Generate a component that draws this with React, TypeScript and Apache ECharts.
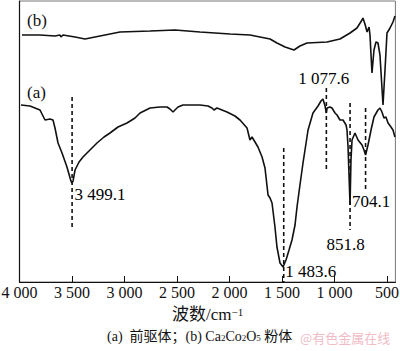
import React, { useEffect, useRef } from "react";
import * as echarts from "echarts";

// Curve (b): Ca2Co2O5 powder — wavenumber (cm^-1) and transmittance (a.u.)
const wavenumberB = [3976, 3805, 3662, 3614, 3605, 3586, 3471, 3376, 3281, 3138, 3043, 2757, 2519, 2281, 1995, 1805, 1614, 1548, 1471, 1386, 1329, 1262, 1071, 948, 852, 786, 738, 729, 710, 690, 671, 662, 643, 624, 605, 586, 567, 538, 519, 500, 471, 443, 424];
const transB = [247, 247, 246, 247, 245, 247, 245, 243, 245, 248, 250, 251, 252, 250, 248, 247, 243, 239, 235, 232, 236, 239, 240, 243, 249, 254, 262, 264, 258, 250, 255, 247, 209, 232, 240, 239, 227, 177, 212, 249, 254, 260, 266];

// Curve (a): precursor
const wavenumberA = [3986, 3900, 3805, 3757, 3710, 3681, 3662, 3633, 3595, 3548, 3510, 3499, 3490, 3471, 3433, 3395, 3329, 3262, 3195, 3138, 3062, 2976, 2900, 2852, 2757, 2662, 2595, 2567, 2538, 2510, 2490, 2443, 2281, 2205, 2167, 2148, 2119, 2024, 1948, 1900, 1833, 1805, 1786, 1757, 1729, 1690, 1662, 1633, 1614, 1595, 1567, 1548, 1519, 1490, 1484, 1462, 1433, 1405, 1376, 1357, 1329, 1300, 1281, 1252, 1205, 1157, 1129, 1110, 1090, 1078, 1071, 1043, 1024, 995, 976, 948, 919, 890, 881, 871, 852, 843, 833, 805, 776, 738, 719, 704, 681, 652, 624, 586, 567, 548, 529, 510, 490, 462, 443, 424];
const transA = [177, 176, 172, 162, 163, 162, 154, 139, 129, 115, 101, 99, 101, 112, 120, 125, 132, 139, 145, 149, 155, 159, 164, 169, 174, 175, 175, 173, 170, 173, 175, 177, 177, 176, 174, 172, 174, 170, 166, 162, 154, 142, 145, 140, 135, 125, 114, 87, 84, 79, 55, 35, 19, 15, 15, 22, 32, 42, 57, 75, 97, 119, 132, 152, 169, 176, 181, 183, 176, 169, 174, 175, 174, 169, 167, 162, 162, 157, 152, 135, 77, 122, 142, 149, 142, 137, 132, 127, 137, 152, 165, 172, 174, 170, 164, 165, 159, 155, 152, 145];

// Marked peaks
const peakWavenumbers = [3499.1, 1483.6, 1077.6, 851.8, 704.1];
const peakLabels = ["3 499.1", "1 483.6", "1 077.6", "851.8", "704.1"];
const dashTop = [185, 134, 194, 179, 174];
const dashBottom = [55, 0, 110, 52, 92];
const labelLevel = [87, 10, 203, 37, 80];

// Axis ticks
const xTicks = [500, 1000, 1500, 2000, 2500, 3000, 3500, 4000];

const SERIF = "'Liberation Serif', 'Times New Roman', serif";
const CJK = "'Liberation Serif', 'Noto Sans CJK SC', serif";

const fmtTick = (v: number) =>
  v >= 1000 ? `${Math.floor(v / 1000)} ${String(v % 1000).padStart(3, "0")}` : String(v);

export default function App() {
  const ref = useRef<HTMLDivElement>(null);
  useEffect(() => {
    document.body.style.margin = "0";
    const chart = echarts.init(ref.current!, null, { renderer: "svg" });
    const labelAlign = ["left", "left", "center", "center", "left"];
    const labelDx = [3, 2, -2, -4, -13];
    const option: any = {
      animation: false,
      backgroundColor: "#fff",
      grid: {
        left: 19.5,
        right: 4.6,
        top: 1,
        bottom: 69,
        containLabel: false,
        outerBoundsMode: "none",
        show: true,
        borderColor: "#777",
        borderWidth: 1,
      },
      xAxis: {
        type: "value",
        inverse: true,
        min: 420,
        max: 4000,
        axisLine: { show: true, lineStyle: { color: "#111", width: 1.2 } },
        axisTick: { show: true, inside: true, length: 6, customValues: xTicks, lineStyle: { color: "#111" } },
        axisLabel: {
          customValues: xTicks,
          formatter: fmtTick,
          margin: 2,
          color: "#111",
          fontFamily: SERIF,
          fontSize: 16,
          hideOverlap: false,
        },
        splitLine: { show: false },
      },
      yAxis: {
        type: "value",
        min: 0,
        max: 281,
        axisLine: { show: true, lineStyle: { color: "#111", width: 1.2 } },
        axisTick: { show: false },
        axisLabel: { show: false },
        splitLine: { show: false },
      },
      series: [
        {
          type: "line",
          data: wavenumberB.map((w, i) => [w, transB[i]]),
          symbol: "none",
          lineStyle: { color: "#111", width: 1.6 },
        },
        {
          type: "line",
          data: wavenumberA.map((w, i) => [w, transA[i]]),
          symbol: "none",
          lineStyle: { color: "#111", width: 1.6 },
        },
        ...peakWavenumbers.map((w, i) => ({
          type: "line",
          data: [
            [w, dashTop[i]],
            [w, dashBottom[i]],
          ],
          symbol: "none",
          lineStyle: { color: "#111", width: 1.6, type: [4, 3] },
        })),
        {
          type: "scatter",
          symbolSize: 1,
          silent: true,
          itemStyle: { color: "#111", opacity: 0 },
          data: peakWavenumbers.map((w, i) => ({
            value: [w, labelLevel[i]],
            label: {
              show: true,
              position: [labelDx[i], 0],
              align: labelAlign[i],
              verticalAlign: "middle",
              formatter: peakLabels[i],
              color: "#000",
              opacity: 1,
              fontFamily: SERIF,
              fontSize: 17,
            },
          })),
        },
      ],
      graphic: [
        { type: "text", left: 27, top: 12, style: { text: "(b)", font: `17px ${SERIF}`, fill: "#111" } },
        { type: "text", left: 27, top: 84, style: { text: "(a)", font: `17px ${SERIF}`, fill: "#111" } },
        {
          type: "text",
          left: 172,
          top: 306,
          style: {
            text: "{m|波数/cm}{s|−1}",
            fill: "#111",
            rich: {
              m: { fontFamily: CJK, fontSize: 17, fill: "#111", verticalAlign: "bottom" },
              s: { fontFamily: SERIF, fontSize: 11, fill: "#111", verticalAlign: "top" },
            },
          },
        },
        {
          type: "text",
          left: 107,
          top: 329,
          style: {
            text: "{m|(a)  前驱体；(b) Ca}{d|2}{m|Co}{d|2}{m|O}{d|5}{m| 粉体}",
            fill: "#111",
            rich: {
              m: { fontFamily: CJK, fontSize: 14, fill: "#111", verticalAlign: "top" },
              d: { fontFamily: SERIF, fontSize: 9, fill: "#111", verticalAlign: "bottom" },
            },
          },
        },
        {
          type: "text",
          left: 300,
          top: 331,
          style: { text: "@有色金属在线", font: "13px 'Noto Sans CJK SC', sans-serif", fill: "#f0bcc6" },
        },
      ],
    };
    chart.setOption(option);
    return () => chart.dispose();
  }, []);
  return <div ref={ref} style={{ width: 400, height: 351 }} />;
}
